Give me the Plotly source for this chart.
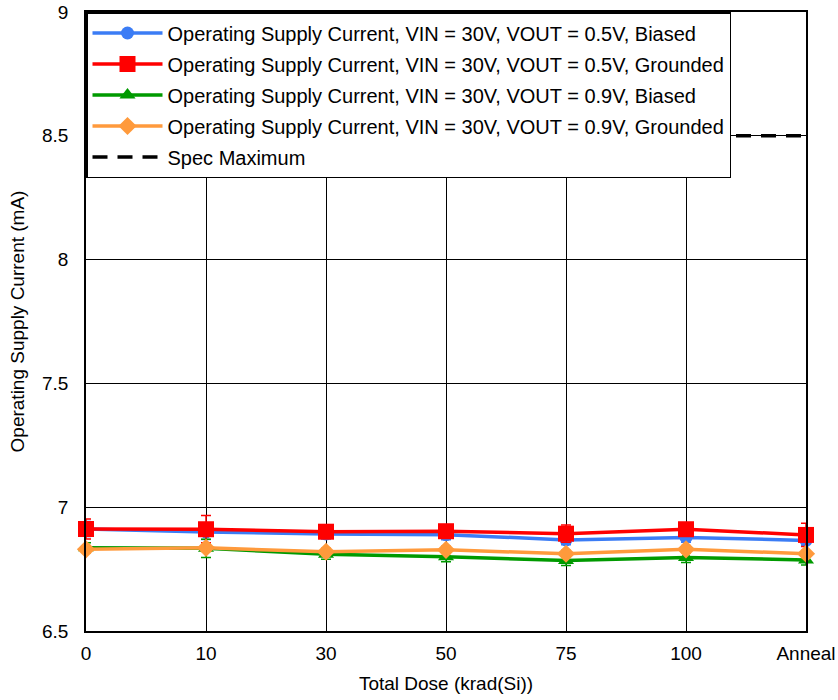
import plotly.graph_objects as go

categories = ["0", "10", "30", "50", "75", "100", "Anneal"]

blue_vals = [6.912, 6.900, 6.892, 6.889, 6.868, 6.878, 6.866]
red_vals = [6.912, 6.911, 6.901, 6.903, 6.893, 6.911, 6.888]
green_vals = [6.836, 6.834, 6.810, 6.800, 6.785, 6.797, 6.787]
orange_vals = [6.830, 6.836, 6.820, 6.828, 6.812, 6.830, 6.812]
spec_max = [8.5] * 7

blue_err = [0.03, 0.03, 0.02, 0.02, 0.02, 0.02, 0.02]
red_err = [0.04, 0.055, 0.02, 0.02, 0.035, 0.02, 0.047]
green_err = [0.02, 0.037, 0.02, 0.02, 0.02, 0.02, 0.02]
orange_err = [0.015, 0.015, 0.015, 0.015, 0.015, 0.015, 0.015]

names = [
    "Operating Supply Current, VIN = 30V, VOUT = 0.5V, Biased",
    "Operating Supply Current, VIN = 30V, VOUT = 0.5V, Grounded",
    "Operating Supply Current, VIN = 30V, VOUT = 0.9V, Biased",
    "Operating Supply Current, VIN = 30V, VOUT = 0.9V, Grounded",
    "Spec Maximum",
]

fig = go.Figure()

series = [
    (blue_vals, blue_err, "#3b7cf5", "circle", 13),
    (red_vals, red_err, "#ff0000", "square", 16),
    (green_vals, green_err, "#009a00", "triangle-up", 14),
    (orange_vals, orange_err, "#ff9a3c", "diamond", 14),
]

for i, (vals, err, col, sym, sz) in enumerate(series):
    fig.add_trace(go.Scatter(
        x=categories, y=vals, name=names[i], mode="lines+markers",
        line=dict(color=col, width=3.5),
        marker=dict(color=col, symbol=sym, size=sz),
        error_y=dict(type="data", array=err, color=col, thickness=1.5, width=5),
        cliponaxis=False, legendgroup=f"g{i}",
    ))

fig.add_trace(go.Scatter(
    x=categories, y=spec_max, name=names[4], mode="lines",
    line=dict(color="black", width=3.5, dash="15px,10px"),
    legendgroup="g4",
))

font = dict(family="Arial, Liberation Sans, sans-serif", size=19, color="black")
lfont = dict(family="Arial, Liberation Sans, sans-serif", size=20, color="black")

fig.update_layout(
    width=838, height=700,
    margin=dict(l=86, r=32, t=12, b=69),
    paper_bgcolor="white", plot_bgcolor="white",
    font=font,
    showlegend=True,
    legend=dict(
        x=0, y=1, xanchor="left", yanchor="top",
        bgcolor="white", bordercolor="black", borderwidth=1.5,
        font=lfont,
        tracegroupgap=2, itemwidth=70,
    ),
    xaxis=dict(
        type="category", range=[0, 6], automargin=False,
        showgrid=True, gridcolor="black", gridwidth=1,
        showline=True, linecolor="black", linewidth=1.5, mirror=True,
        ticks="", tickfont=font, ticklabelstandoff=4,
        title=dict(text="Total Dose (krad(Si))", font=font, standoff=14),
        zeroline=False,
    ),
    yaxis=dict(
        range=[6.5, 9], automargin=False,
        tickvals=[6.5, 7, 7.5, 8, 8.5, 9],
        ticktext=["6.5", "7", "7.5", "8", "8.5", "9"],
        showgrid=True, gridcolor="black", gridwidth=1,
        showline=True, linecolor="black", linewidth=1.5, mirror=True,
        ticks="", tickfont=font, ticklabelstandoff=12,
        title=dict(text="Operating Supply Current (mA)", font=font, standoff=12),
        zeroline=False,
    ),
)

fig.write_html("out.html")
